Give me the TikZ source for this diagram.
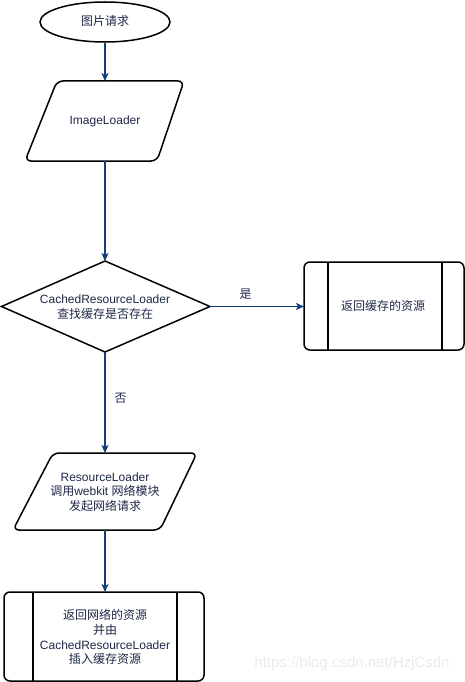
\documentclass[tikz,border=0pt]{standalone}
\usepackage{fontspec}
\setmainfont{Liberation Sans}
\newfontfamily\cjk{Noto Sans CJK SC}
\usetikzlibrary{arrows.meta,shapes.geometric}
\definecolor{arrowc}{RGB}{16,62,122}
\definecolor{txtc}{RGB}{30,40,70}
\tikzset{
  x=1pt, y=-1pt,
  shapeline/.style={draw=black, line width=1.5pt, rounded corners=6pt},
  conn/.style={draw=arrowc, line width=1.1pt, -{Stealth[length=8pt,width=7pt,inset=2pt]}},
  lbl/.style={text=txtc, font=\fontsize{12pt}{14.8pt}\selectfont, align=center, inner sep=0pt},
}
\begin{document}
\begin{tikzpicture}
\useasboundingbox (0,0) rectangle (465,682);
% start terminator
\node[draw=black, line width=1.5pt, ellipse, minimum width=130pt, minimum height=40pt, inner sep=0pt] (start) at (105,22) {};
\node[lbl] (startt) at (105,21) {\cjk 图片请求};
% ImageLoader parallelogram
\draw[shapeline] (57,81) -- (184,81) -- (157,161) -- (25,161) -- cycle;
\coordinate (ilT) at (105,81);
\coordinate (ilB) at (105,161);
\node[lbl] (il) at (105,121) {ImageLoader};
% decision diamond
\draw[draw=black, line width=1.5pt] (105,261) -- (210,306.5) -- (105,352) -- (1.5,306.5) -- cycle;
\coordinate (dT) at (105,261);
\coordinate (dR) at (210,306.5);
\coordinate (dB) at (105,352);
\node[lbl] (dec) at (105,307) {CachedResourceLoader\\{\cjk 查找缓存是否存在}};
% right process box
\draw[shapeline] (304,262) rectangle (464,350);
\draw[line width=1.2pt] (328,262) -- (328,350) (442,262) -- (442,350);
\coordinate (rL) at (304,306.5);
\node[lbl] (rbox) at (383,306) {\cjk 返回缓存的资源};
% ResourceLoader parallelogram
\draw[shapeline] (53,453) -- (197,453) -- (160,530) -- (13,530) -- cycle;
\coordinate (rlT) at (105,453);
\coordinate (rlB) at (105,530);
\node[lbl] (rl) at (105,492) {ResourceLoader\\{\cjk 调用}webkit {\cjk 网络模块}\\{\cjk 发起网络请求}};
% bottom process box
\draw[shapeline] (4,592) rectangle (204,681);
\draw[line width=1.2pt] (33,592) -- (33,681) (177,592) -- (177,681);
\coordinate (bT) at (105,592);
\node[lbl] (bbox) at (105,637) {{\cjk 返回网络的资源}\\{\cjk 并由}\\CachedResourceLoader\\{\cjk 插入缓存资源}};
% connectors
\draw[conn] (start.south) -- (ilT);
\draw[conn] (ilB) -- (dT);
\draw[conn] (dR) -- node[lbl, above=6pt, pos=0.38] (yes) {\cjk 是} (rL);
\draw[conn] (dB) -- node[lbl, right=9pt, pos=0.46] (no) {\cjk 否} (rlT);
\draw[conn] (rlB) -- (bT);
% watermark
\node[text=black!8, font=\fontsize{15pt}{17pt}\selectfont, inner sep=0pt] (wm) at (352,664) {https://blog.csdn.net/HzjCsdn};
\end{tikzpicture}
\end{document}
